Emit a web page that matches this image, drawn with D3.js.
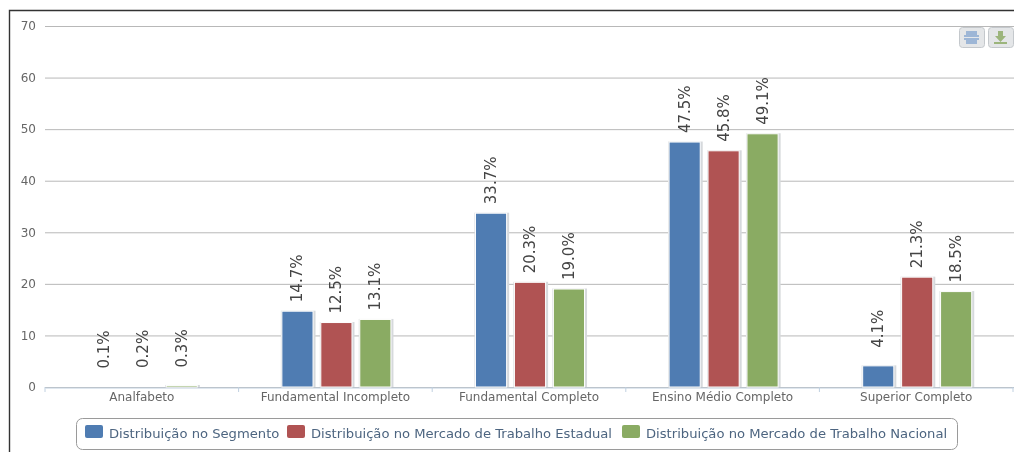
<!DOCTYPE html>
<html>
<head>
<meta charset="utf-8">
<script src="https://d3js.org/d3.v7.min.js"></script>
<style>
html, body { margin: 0; padding: 0; background: #fff; }
svg { display: block; filter: blur(0.4px); }
text { font-family: "DejaVu Sans", sans-serif; }
</style>
</head>
<body>
<svg id="chart" width="1014" height="452"></svg>
<script>
var categories = ["Analfabeto", "Fundamental Incompleto", "Fundamental Completo", "Ensino Médio Completo", "Superior Completo"];
var seriesNames = ["Distribuição no Segmento", "Distribuição no Mercado de Trabalho Estadual", "Distribuição no Mercado de Trabalho Nacional"];
var seriesColors = ["#4f7cb2", "#b05353", "#8aab63"];
var segmento = [0.1, 14.7, 33.7, 47.5, 4.1];
var estadual = [0.2, 12.5, 20.3, 45.8, 21.3];
var nacional = [0.3, 13.1, 19.0, 49.1, 18.5];
var yTicks = [0, 10, 20, 30, 40, 50, 60, 70];

var allSeries = [segmento, estadual, nacional];
var svg = d3.select("#chart");

// frame
svg.append("path")
    .attr("d", d3.line()([[9.5, 452], [9.5, 10.5], [1014, 10.5]]))
    .attr("fill", "none")
    .attr("stroke", "#333")
    .attr("stroke-width", 1.4);

var xScale = d3.scaleBand()
    .domain(categories)
    .range([45, 1013]);

var groupScale = d3.scaleBand()
    .domain([0, 1, 2])
    .range([1, xScale.bandwidth() + 1])
    .paddingInner(0.2)
    .paddingOuter(1.085);

var yScale = d3.scaleLinear()
    .domain([0, 70])
    .range([387, 26]);

// bars under about a pixel tall don't show up in the original
var visible = (d) => (yScale(0) - yScale(d) > 1.2 ? 1 : 0);

// y axis + grid
var yAxis = d3.axisLeft(yScale)
    .tickValues(yTicks)
    .tickSize(-969)
    .tickPadding(9);

var yGroup = svg.append("g")
    .attr("transform", "translate(45,0)")
    .call(yAxis);
yGroup.select(".domain").remove();
yGroup.selectAll("line").attr("stroke", "#b8b8b8");
yGroup.selectAll("text")
    .attr("fill", "#666")
    .attr("font-size", 12);

// x axis
var xAxis = d3.axisBottom(xScale)
    .tickSize(0)
    .tickPadding(5);

var xGroup = svg.append("g")
    .attr("transform", "translate(0,387.5)")
    .call(xAxis);
xGroup.select(".domain").attr("stroke", "#c0d0e0");
xGroup.selectAll("text")
    .attr("fill", "#666")
    .attr("font-size", 12);

svg.selectAll(".sep")
    .data(categories.concat(["end"]))
    .enter()
    .append("line")
    .attr("class", "sep")
    .attr("x1", (d) => d == "end" ? 1013 : xScale(d))
    .attr("x2", (d) => d == "end" ? 1013 : xScale(d))
    .attr("y1", 387)
    .attr("y2", 392)
    .attr("stroke", "#c0d0e0");

// bars
allSeries.forEach(function (values, s) {
    var g = svg.append("g");

    g.selectAll(".shadow")
        .data(values)
        .enter()
        .append("rect")
        .attr("class", "shadow")
        .attr("x", (d, i) => xScale(categories[i]) + groupScale(s) - 1)
        .attr("y", (d) => yScale(d) - 0.5)
        .attr("width", groupScale.bandwidth() + 3.5)
        .attr("height", (d) => yScale(0) - yScale(d) + 0.5)
        .attr("fill", "#d6d9dc")
        .attr("opacity", visible);

    g.selectAll(".bar")
        .data(values)
        .enter()
        .append("rect")
        .attr("class", "bar")
        .attr("x", (d, i) => xScale(categories[i]) + groupScale(s))
        .attr("y", (d) => yScale(d))
        .attr("width", groupScale.bandwidth())
        .attr("height", (d) => yScale(0) - yScale(d))
        .attr("fill", seriesColors[s])
        .attr("stroke", "#fff")
        .attr("stroke-width", 1)
        .attr("opacity", visible);

    g.selectAll(".label")
        .data(values)
        .enter()
        .append("text")
        .attr("class", "label")
        .attr("transform", function (d, i) {
            var cx = xScale(categories[i]) + groupScale(s) + groupScale.bandwidth() / 2 + 5;
            var cy = yScale(d) - (d < 10 ? 18 : 9);
            return "translate(" + cx + "," + cy + ") rotate(-90)";
        })
        .attr("fill", "#444")
        .attr("font-size", 15)
        .text((d) => d.toFixed(1) + "%");
});

// legend
var legend = svg.append("g");
legend.append("rect")
    .attr("x", 76.5)
    .attr("y", 418.5)
    .attr("width", 881)
    .attr("height", 31)
    .attr("rx", 6)
    .attr("fill", "#fff")
    .attr("stroke", "#9a9a9a");

var legendX = [85, 287, 622];
seriesNames.forEach(function (name, s) {
    legend.append("rect")
        .attr("x", legendX[s])
        .attr("y", 425)
        .attr("width", 18)
        .attr("height", 13)
        .attr("rx", 2)
        .attr("fill", seriesColors[s]);
    legend.append("text")
        .attr("x", legendX[s] + 24)
        .attr("y", 438)
        .attr("fill", "#4d6580")
        .attr("font-size", 13.15)
        .text(name);
});

// export buttons
var buttons = svg.append("g");
[959, 988].forEach(function (bx, i) {
    buttons.append("rect")
        .attr("x", bx + 0.5)
        .attr("y", 27.5)
        .attr("width", 25)
        .attr("height", 20)
        .attr("rx", 3)
        .attr("fill", "#e4e6e8")
        .attr("stroke", "#c4c8cc");
});
buttons.append("path")
    .attr("d", "M966 31h11v4h2v5h-2v4h-11v-4h-2v-5h2z")
    .attr("fill", "#9db6d6");
buttons.append("path")
    .attr("d", "M964 37h15v1h-15z")
    .attr("fill", "#e4e7ea");
buttons.append("path")
    .attr("d", "M998 31h5v5h3l-5.5 6l-5.5 -6h3zM994 42h13v2h-13z")
    .attr("fill", "#9cb57c");
</script>
</body>
</html>
